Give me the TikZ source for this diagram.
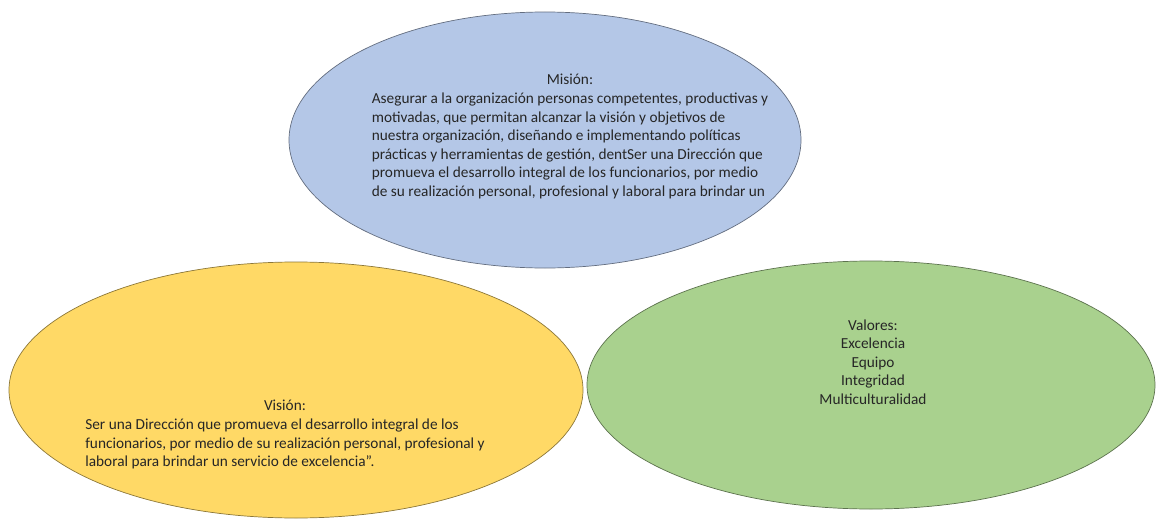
\documentclass[tikz,border=0pt]{standalone}
\usepackage{fontspec}
\setmainfont{Carlito}
\usetikzlibrary{shapes.geometric,positioning}
\definecolor{misionblue}{HTML}{B4C7E7}
\definecolor{visionyellow}{HTML}{FFD966}
\definecolor{valoresgreen}{HTML}{A9D18E}
\tikzset{
  blob/.style={ellipse, draw=#1!55!black, fill=#1, line width=0.7pt, inner sep=0pt},
  txt/.style={font=\fontsize{15.3}{18.6}\selectfont, text=black!85, inner sep=0pt}
}

\begin{document}
\begin{tikzpicture}[x=1pt,y=-1pt]
	\useasboundingbox (0,0) rectangle (1157,527);
	% the three ellipses
	\node[blob=misionblue, minimum width=512pt, minimum height=256pt] (mision) at (545,140) {};
	\node[blob=visionyellow, minimum width=574pt, minimum height=256pt] (vision) at (296,390) {};
	\node[blob=valoresgreen, minimum width=568pt, minimum height=248pt] (valores) at (871,385) {};

	% texts
	\node[txt] (misiontxt) at (570,137) {\begin{tabular}{@{}l@{}}
		\multicolumn{1}{@{}c@{}}{Misión:}\\
		Asegurar a la organización personas competentes, productivas y\\
		motivadas, que permitan alcanzar la visión y objetivos de\\
		nuestra organización, diseñando e implementando políticas\\
		prácticas y herramientas de gestión, dentSer una Dirección que\\
		promueva el desarrollo integral de los funcionarios, por medio\\
		de su realización personal, profesional y laboral para brindar un
	\end{tabular}};
	\node[txt] (visiontxt) at (285,435) {\begin{tabular}{@{}l@{}}
		\multicolumn{1}{@{}c@{}}{Visión:}\\
		Ser una Dirección que promueva el desarrollo integral de los\\
		funcionarios, por medio de su realización personal, profesional y\\
		laboral para brindar un servicio de excelencia''.
	\end{tabular}};
	\node[txt, align=center] (valorestxt) at (873,362) {Valores:\\ Excelencia\\ Equipo\\ Integridad\\ Multiculturalidad};
\end{tikzpicture}
\end{document}
